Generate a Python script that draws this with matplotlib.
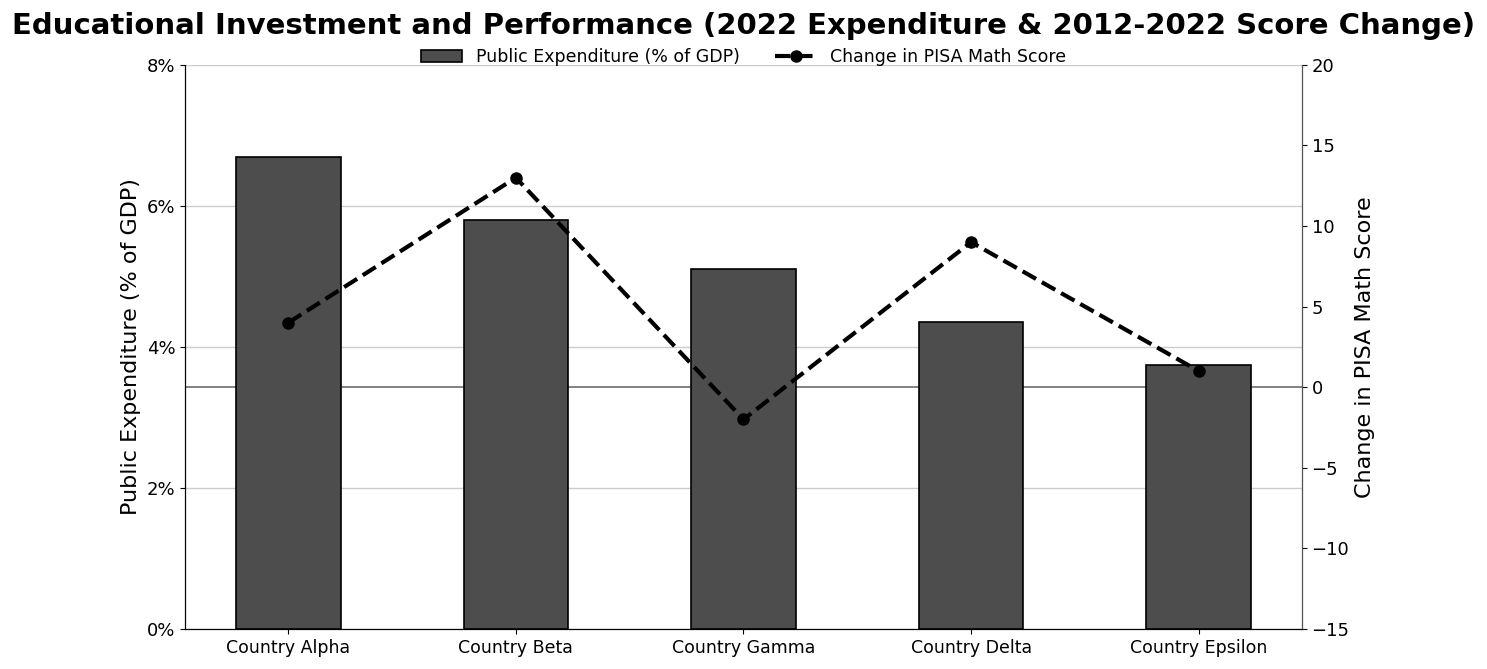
import matplotlib
matplotlib.use("Agg")
import matplotlib.pyplot as plt
import matplotlib.transforms as mtransforms
from matplotlib.ticker import FuncFormatter

countries = ["Country Alpha", "Country Beta", "Country Gamma", "Country Delta", "Country Epsilon"]
expenditure = [6.7, 5.8, 5.1, 4.35, 3.75]
score_change = [4, 13, -2, 9, 1]

fig, ax1 = plt.subplots(figsize=(14.87, 6.69), dpi=100)
x = range(len(countries))

bars = ax1.bar(x, expenditure, width=0.46, color="#4d4d4d", edgecolor="black",
               linewidth=1.2, label="Public Expenditure (% of GDP)", zorder=3)
ax1.set_ylim(0, 8)
ax1.set_yticks([0, 2, 4, 6, 8])
ax1.yaxis.set_major_formatter(FuncFormatter(lambda v, p: f"{v:.0f}%"))
ax1.set_ylabel("Public Expenditure (% of GDP)", fontsize=16)
ax1.set_xticks(list(x))
ax1.set_xticklabels(countries, fontsize=12.5)
ax1.tick_params(axis="y", labelsize=13)
ax1.grid(axis="y", color="#cccccc", linewidth=1, zorder=0)
ax1.set_axisbelow(True)
ax1.spines["top"].set_visible(False)

ax2 = ax1.twinx()
line, = ax2.plot(list(x), score_change, color="black", linestyle="--", linewidth=3,
                 marker="o", markersize=8, label="Change in PISA Math Score")
ax2.set_ylim(-15, 20)
ax2.set_yticks(range(-15, 21, 5))
ax2.set_ylabel("Change in PISA Math Score", fontsize=16)
ax2.tick_params(axis="y", labelsize=13)
ax2.spines["top"].set_visible(False)
ax2.spines["right"].set_color("#555555")

# zero line for score change, drawn under the bars
trans = mtransforms.blended_transform_factory(ax1.transAxes, ax2.transData)
ax1.plot([0, 1], [0, 0], transform=trans, color="#777777", linewidth=1.3, zorder=2)

fig.legend([bars, line], [bars.get_label(), line.get_label()], loc="upper center",
           bbox_to_anchor=(0.5, 0.951), ncol=2, frameon=False, fontsize=12.5,
           handlelength=2.4)

fig.suptitle("Educational Investment and Performance (2022 Expenditure & 2012-2022 Score Change)",
             fontsize=21, fontweight="bold", y=0.982)
fig.subplots_adjust(left=0.1245, right=0.8755, top=0.903, bottom=0.06)
fig.savefig("out.png", dpi=100)
